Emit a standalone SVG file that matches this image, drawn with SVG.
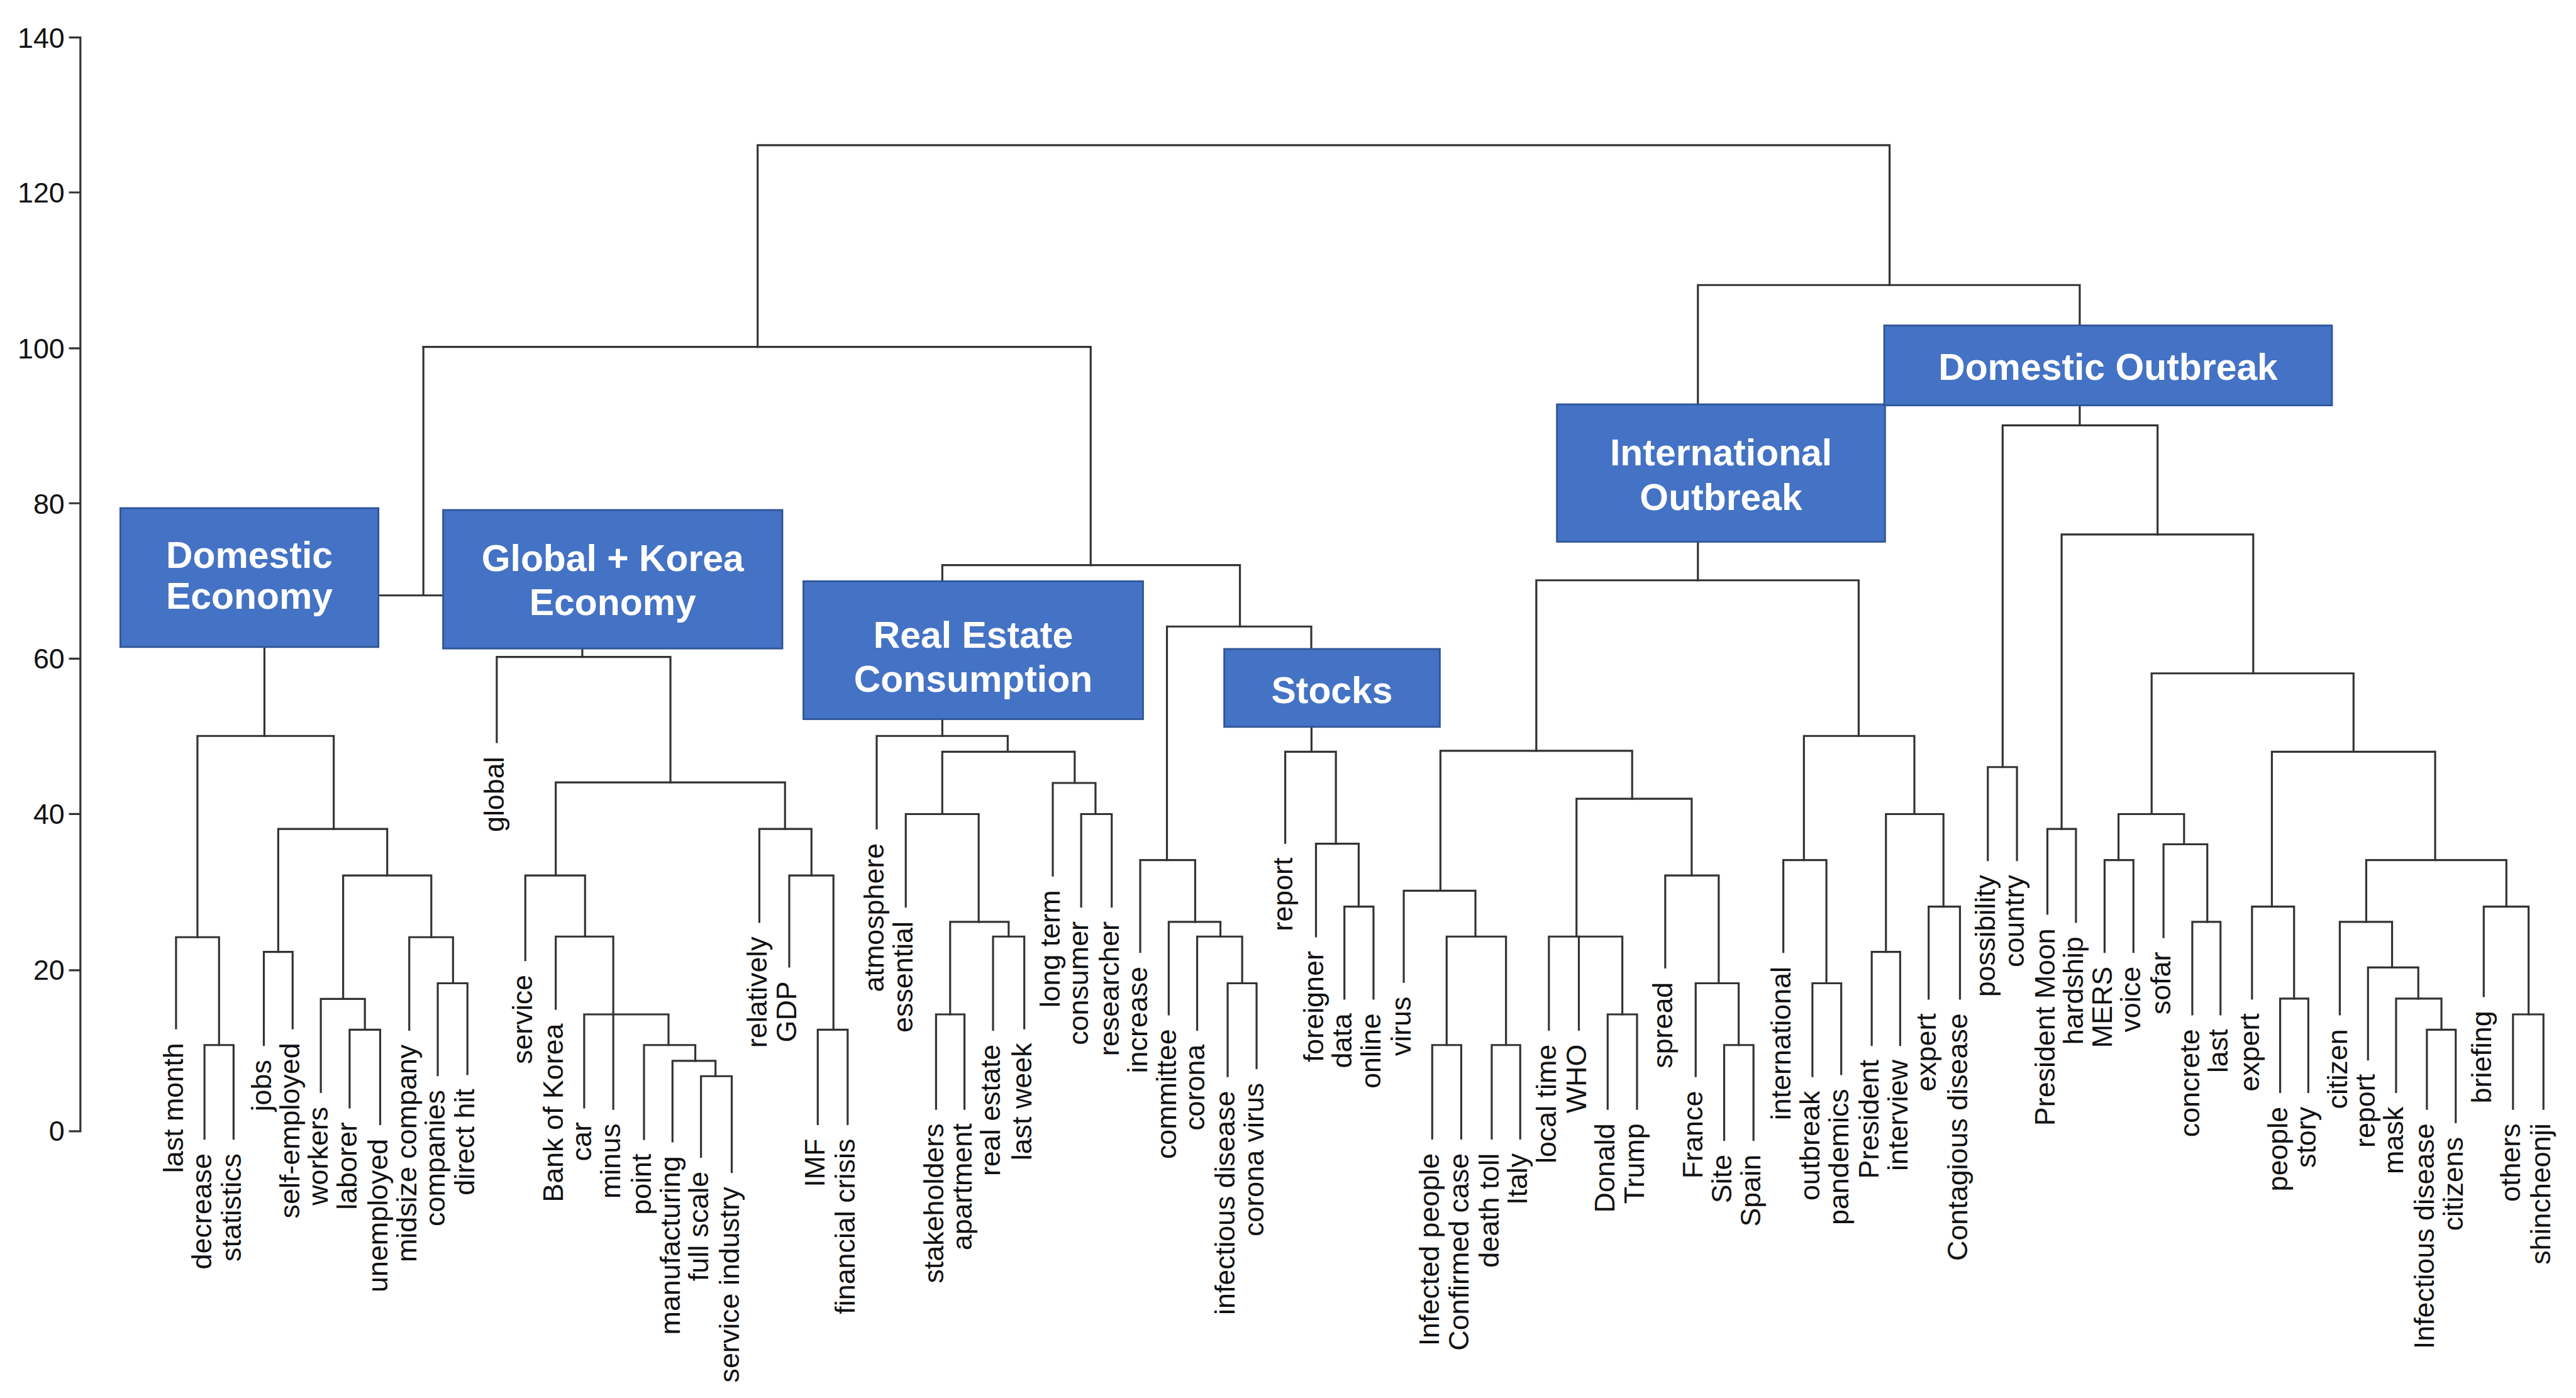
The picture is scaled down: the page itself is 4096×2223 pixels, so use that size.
<svg xmlns="http://www.w3.org/2000/svg" width="4096" height="2223" viewBox="0 0 4096 2223">
<style>
.ln{fill:none;stroke:#333;stroke-width:3.4;stroke-linecap:square}
.lbl{font-family:"Liberation Sans",Arial,sans-serif;font-size:48px;fill:#111;text-anchor:end}
.ax{font-family:"Liberation Sans",Arial,sans-serif;font-size:48px;fill:#111;text-anchor:end}
.box{fill:#4472C4;stroke:#2F5597;stroke-width:3}
.bt{font-family:"Liberation Sans",Arial,sans-serif;font-weight:bold;font-size:63px;fill:#fff;text-anchor:middle}
</style>
<rect width="4096" height="2223" fill="#fff"/>
<g transform="scale(0.934307)">
<g id="axis">
<path class="ln" d="M136.8 63.8V1925.3M119 63.8H136.8M119 327.5H136.8M119 592.9H136.8M119 856.5H136.8M119 1121H136.8M119 1385.4H136.8M119 1651.3H136.8M119 1925.3H136.8"/>
<text class="ax" x="110" y="81">140</text>
<text class="ax" x="110" y="345">120</text>
<text class="ax" x="110" y="610">100</text>
<text class="ax" x="110" y="874">80</text>
<text class="ax" x="110" y="1138">60</text>
<text class="ax" x="110" y="1402">40</text>
<text class="ax" x="110" y="1668">20</text>
<text class="ax" x="110" y="1942">0</text>
</g>
<g id="connectors" class="ln">
<path d="M348 1938V1778.6H397.5V1938"/>
<path d="M299.6 1750V1595H372.8V1778.6"/>
<path d="M449 1778.6V1620H498V1750"/>
<path d="M595 1884.7V1752.5H647V1913"/>
<path d="M546 1858.6V1700H621V1752.5"/>
<path d="M745 1830V1673.4H795.5V1828"/>
<path d="M696.5 1752.5V1595H771V1673.4"/>
<path d="M584 1700V1490H734V1595"/>
<path d="M473.5 1620V1410.8H659V1490"/>
<path d="M336 1595V1252.5H568V1410.8"/>
<path d="M450 1101.2V1252.5"/>
<path d="M1391.7 1913V1752.5H1442.6V1913"/>
<path d="M1343.2 1645V1490H1418.4V1752.5"/>
<path d="M1292.3 1569V1410.8H1381V1490"/>
<path d="M1193 1968.7V1831.6H1245.3V1994.8"/>
<path d="M1144.5 1942.6V1805.5H1217.7V1831.6"/>
<path d="M1096 1938.5V1778.6H1183.3V1805.5"/>
<path d="M994.2 1884.7V1726.4H1137.7V1778.6"/>
<path d="M945.8 1717V1594H1043.7V1887"/>
<path d="M894 1634V1490H995.7V1594"/>
<path d="M945.8 1490V1331.6H1336V1410.8"/>
<path d="M845.4 1263V1118H1141V1331.6"/>
<path d="M991 1103.7V1118"/>
<path d="M644 1013.3H754.1M720.5 1013.3V590.4"/>
<path d="M1593 1887V1726.4H1641.4V1887"/>
<path d="M1690 1752.5V1594H1743.2V1750"/>
<path d="M1617 1726.4V1569H1716.6V1594"/>
<path d="M1541.5 1543V1385.5H1665.6V1569"/>
<path d="M1840 1543V1385.5H1892V1543"/>
<path d="M1791.7 1490V1332.5H1864.4V1385.5"/>
<path d="M1603.6 1385.5V1279.4H1829V1332.5"/>
<path d="M1492 1410V1252.5H1715V1279.4"/>
<path d="M1603.7 1223.9V1252.5"/>
<path d="M2089.3 1831.6V1673.4H2138.5V1817.8"/>
<path d="M2037.4 1752.5V1594H2114V1673.4"/>
<path d="M1989 1726.4V1569H2077V1594"/>
<path d="M1940.5 1620V1463.8H2034V1569"/>
<path d="M1986 1463.8V1066.3H2231.6V1104.5"/>
<path d="M2288 1699.5V1543H2337.5V1699.5"/>
<path d="M2239.6 1593.5V1436H2312.3V1543"/>
<path d="M2187.3 1434.4V1279.4H2273.5V1436"/>
<path d="M2232 1237.1V1279.4"/>
<path d="M1603.7 989.2V961.8H2110.2V1066.3"/>
<path d="M1856.2 961.8V590.4H720.5"/>
<path d="M1289.4 590.4V247.1H3215.8V485.1"/>
<path d="M2437.4 1937.7V1778.6H2486.8V1937.7"/>
<path d="M2538.7 1937.7V1778.6H2587.2V1937.7"/>
<path d="M2462 1778.6V1594H2563V1778.6"/>
<path d="M2389 1671V1516H2511V1594"/>
<path d="M2736 1887V1726.4H2786V1887"/>
<path d="M2636 1752.5V1594H2761V1726.4"/>
<path d="M2687 1594V1752.5"/>
<path d="M2934.3 1940V1778.6H2984.2V1940"/>
<path d="M2885.8 1831.6V1673.4H2959V1778.6"/>
<path d="M2834 1646.5V1490H2925V1673.4"/>
<path d="M2683 1594V1359.4H2879V1490"/>
<path d="M2451.4 1516V1277.8H2777.7V1359.4"/>
<path d="M3084.5 1831.6V1673.4H3133.5V1828"/>
<path d="M3035 1620V1463.8H3108.3V1673.4"/>
<path d="M3185.4 1778.6V1620H3233.8V1778.6"/>
<path d="M3282.3 1699.5V1543H3335.6V1699.5"/>
<path d="M3209.6 1620V1385.5H3307.5V1543"/>
<path d="M3070 1463.8V1252.5H3258V1385.5"/>
<path d="M2614.6 1277.8V987.6H3163.2V1252.5"/>
<path d="M2889.6 922V987.6"/>
<path d="M2889.6 688.2V485.1H3539.4V553.9"/>
<path d="M3383 1463.8V1305.5H3432.6V1463.8"/>
<path d="M3484.4 1555V1410.8H3533V1569"/>
<path d="M3581.7 1620V1463.8H3630.8V1620"/>
<path d="M3731 1726.4V1569H3779V1726.4"/>
<path d="M3682 1595V1436.9H3756.5V1569"/>
<path d="M3605.4 1463.8V1385.5H3717V1436.9"/>
<path d="M3880.5 1858.6V1699.5H3928.4V1858.6"/>
<path d="M3832.6 1699.5V1543H3904.2V1699.5"/>
<path d="M4130.2 1887V1752.5H4179.3V1910"/>
<path d="M4077.8 1858.6V1699.5H4155V1752.5"/>
<path d="M4030 1803V1646.5H4115.6V1699.5"/>
<path d="M3982 1726.4V1569H4071V1646.5"/>
<path d="M4276.8 1887V1726.4H4328.6V1887"/>
<path d="M4227 1695.4V1543H4303.3V1726.4"/>
<path d="M4027 1569V1463.8H4265.5V1543"/>
<path d="M3866.4 1543V1279.4H4144.3V1463.8"/>
<path d="M3661.8 1385.5V1146H4005.4V1279.4"/>
<path d="M3508.6 1410.8V909.6H3834.7V1146"/>
<path d="M3408.2 1305.5V723.9H3671.9V909.6"/>
<path d="M3539.4 689.9V723.9"/>
</g>
<g id="node-domestic-economy"><rect class="box" x="204.8" y="864.8" width="439.2" height="236.4"/><text class="bt" x="424.4" y="966">Domestic</text><text class="bt" x="424.4" y="1036.5">Economy</text></g>
<g id="node-global-korea-economy"><rect class="box" x="754.1" y="868" width="577.4" height="235.7"/><text class="bt" x="1042.8" y="971.8">Global + Korea</text><text class="bt" x="1042.8" y="1046.4">Economy</text></g>
<g id="node-real-estate-consumption"><rect class="box" x="1367.3" y="989.2" width="578" height="234.7"/><text class="bt" x="1656.3" y="1102.8">Real Estate</text><text class="bt" x="1656.3" y="1177.4">Consumption</text></g>
<g id="node-stocks"><rect class="box" x="2083.5" y="1104.5" width="366.9" height="132.6"/><text class="bt" x="2267" y="1197">Stocks</text></g>
<g id="node-international-outbreak"><rect class="box" x="2649.7" y="688.2" width="558.4" height="233.8"/><text class="bt" x="2929" y="791.9">International</text><text class="bt" x="2929" y="868.2">Outbreak</text></g>
<g id="node-domestic-outbreak"><rect class="box" x="3206.7" y="553.9" width="762" height="136"/><text class="bt" x="3587.7" y="646.8">Domestic Outbreak</text></g>
<g id="leaves" class="lbl">
<g id="leaf-last-month"><text transform="translate(311.6,1775) rotate(-90)">last month</text></g>
<g id="leaf-decrease"><text transform="translate(360,1963) rotate(-90)">decrease</text></g>
<g id="leaf-statistics"><text transform="translate(409.5,1963) rotate(-90)">statistics</text></g>
<g id="leaf-jobs"><text transform="translate(461,1803.6) rotate(-90)">jobs</text></g>
<g id="leaf-self-employed"><text transform="translate(510,1775) rotate(-90)">self-employed</text></g>
<g id="leaf-workers"><text transform="translate(558,1883.6) rotate(-90)">workers</text></g>
<g id="leaf-laborer"><text transform="translate(607,1909.7) rotate(-90)">laborer</text></g>
<g id="leaf-unemployed"><text transform="translate(659,1938) rotate(-90)">unemployed</text></g>
<g id="leaf-midsize-company"><text transform="translate(708.5,1777.5) rotate(-90)">midsize company</text></g>
<g id="leaf-companies"><text transform="translate(757,1855) rotate(-90)">companies</text></g>
<g id="leaf-direct-hit"><text transform="translate(807.5,1853) rotate(-90)">direct hit</text></g>
<g id="leaf-global"><text transform="translate(857.4,1288) rotate(-90)">global</text></g>
<g id="leaf-service"><text transform="translate(906,1659) rotate(-90)">service</text></g>
<g id="leaf-bank-of-korea"><text transform="translate(957.8,1742) rotate(-90)">Bank of Korea</text></g>
<g id="leaf-car"><text transform="translate(1006.2,1909.7) rotate(-90)">car</text></g>
<g id="leaf-minus"><text transform="translate(1055.7,1912) rotate(-90)">minus</text></g>
<g id="leaf-point"><text transform="translate(1108,1963.5) rotate(-90)">point</text></g>
<g id="leaf-manufacturing"><text transform="translate(1156.5,1967.6) rotate(-90)">manufacturing</text></g>
<g id="leaf-full-scale"><text transform="translate(1205,1993.7) rotate(-90)">full scale</text></g>
<g id="leaf-service-industry"><text transform="translate(1257.3,2019.8) rotate(-90)">service industry</text></g>
<g id="leaf-relatively"><text transform="translate(1304.3,1594) rotate(-90)">relatively</text></g>
<g id="leaf-gdp"><text transform="translate(1355.2,1670) rotate(-90)">GDP</text></g>
<g id="leaf-imf"><text transform="translate(1403.7,1938) rotate(-90)">IMF</text></g>
<g id="leaf-financial-crisis"><text transform="translate(1454.6,1938) rotate(-90)">financial crisis</text></g>
<g id="leaf-atmosphere"><text transform="translate(1504,1435) rotate(-90)">atmosphere</text></g>
<g id="leaf-essential"><text transform="translate(1553.5,1568) rotate(-90)">essential</text></g>
<g id="leaf-stakeholders"><text transform="translate(1605,1912) rotate(-90)">stakeholders</text></g>
<g id="leaf-apartment"><text transform="translate(1653.4,1912) rotate(-90)">apartment</text></g>
<g id="leaf-real-estate"><text transform="translate(1702,1777.5) rotate(-90)">real estate</text></g>
<g id="leaf-last-week"><text transform="translate(1755.2,1775) rotate(-90)">last week</text></g>
<g id="leaf-long-term"><text transform="translate(1803.7,1515) rotate(-90)">long term</text></g>
<g id="leaf-consumer"><text transform="translate(1852,1568) rotate(-90)">consumer</text></g>
<g id="leaf-researcher"><text transform="translate(1904,1568) rotate(-90)">researcher</text></g>
<g id="leaf-increase"><text transform="translate(1952.5,1645) rotate(-90)">increase</text></g>
<g id="leaf-committee"><text transform="translate(2001,1751.4) rotate(-90)">committee</text></g>
<g id="leaf-corona"><text transform="translate(2049.4,1777.5) rotate(-90)">corona</text></g>
<g id="leaf-infectious-disease"><text transform="translate(2101.3,1856.6) rotate(-90)">infectious disease</text></g>
<g id="leaf-corona-virus"><text transform="translate(2150.5,1842.8) rotate(-90)">corona virus</text></g>
<g id="leaf-report-1"><text transform="translate(2199.3,1459.4) rotate(-90)">report</text></g>
<g id="leaf-foreigner"><text transform="translate(2251.6,1618.5) rotate(-90)">foreigner</text></g>
<g id="leaf-data"><text transform="translate(2300,1724.5) rotate(-90)">data</text></g>
<g id="leaf-online"><text transform="translate(2349.5,1724.5) rotate(-90)">online</text></g>
<g id="leaf-virus"><text transform="translate(2401,1696) rotate(-90)">virus</text></g>
<g id="leaf-infected-people"><text transform="translate(2449.4,1962.7) rotate(-90)">Infected people</text></g>
<g id="leaf-confirmed-case"><text transform="translate(2498.8,1962.7) rotate(-90)">Confirmed case</text></g>
<g id="leaf-death-toll"><text transform="translate(2550.7,1962.7) rotate(-90)">death toll</text></g>
<g id="leaf-italy"><text transform="translate(2599.2,1962.7) rotate(-90)">Italy</text></g>
<g id="leaf-local-time"><text transform="translate(2648,1777.5) rotate(-90)">local time</text></g>
<g id="leaf-who"><text transform="translate(2699.5,1777.5) rotate(-90)">WHO</text></g>
<g id="leaf-donald"><text transform="translate(2748,1912) rotate(-90)">Donald</text></g>
<g id="leaf-trump"><text transform="translate(2798,1912) rotate(-90)">Trump</text></g>
<g id="leaf-spread"><text transform="translate(2846,1671.5) rotate(-90)">spread</text></g>
<g id="leaf-france"><text transform="translate(2897.8,1856.6) rotate(-90)">France</text></g>
<g id="leaf-site"><text transform="translate(2946.3,1965) rotate(-90)">Site</text></g>
<g id="leaf-spain"><text transform="translate(2996.2,1965) rotate(-90)">Spain</text></g>
<g id="leaf-international"><text transform="translate(3047,1645) rotate(-90)">international</text></g>
<g id="leaf-outbreak"><text transform="translate(3096.5,1856.6) rotate(-90)">outbreak</text></g>
<g id="leaf-pandemics"><text transform="translate(3145.5,1853) rotate(-90)">pandemics</text></g>
<g id="leaf-president"><text transform="translate(3197.4,1803.6) rotate(-90)">President</text></g>
<g id="leaf-interview"><text transform="translate(3245.8,1803.6) rotate(-90)">interview</text></g>
<g id="leaf-expert-1"><text transform="translate(3294.3,1724.5) rotate(-90)">expert</text></g>
<g id="leaf-contagious-disease"><text transform="translate(3347.6,1724.5) rotate(-90)">Contagious disease</text></g>
<g id="leaf-possibility"><text transform="translate(3395,1488.8) rotate(-90)">possibility</text></g>
<g id="leaf-country"><text transform="translate(3444.6,1488.8) rotate(-90)">country</text></g>
<g id="leaf-president-moon"><text transform="translate(3496.4,1580) rotate(-90)">President Moon</text></g>
<g id="leaf-hardship"><text transform="translate(3545,1594) rotate(-90)">hardship</text></g>
<g id="leaf-mers"><text transform="translate(3593.7,1645) rotate(-90)">MERS</text></g>
<g id="leaf-voice"><text transform="translate(3642.8,1645) rotate(-90)">voice</text></g>
<g id="leaf-sofar"><text transform="translate(3694,1620) rotate(-90)">sofar</text></g>
<g id="leaf-concrete"><text transform="translate(3743,1751.4) rotate(-90)">concrete</text></g>
<g id="leaf-last"><text transform="translate(3791,1751.4) rotate(-90)">last</text></g>
<g id="leaf-expert-2"><text transform="translate(3844.6,1724.5) rotate(-90)">expert</text></g>
<g id="leaf-people"><text transform="translate(3892.5,1883.6) rotate(-90)">people</text></g>
<g id="leaf-story"><text transform="translate(3940.4,1883.6) rotate(-90)">story</text></g>
<g id="leaf-citizen"><text transform="translate(3994,1751.4) rotate(-90)">citizen</text></g>
<g id="leaf-report-2"><text transform="translate(4042,1828) rotate(-90)">report</text></g>
<g id="leaf-mask"><text transform="translate(4089.8,1883.6) rotate(-90)">mask</text></g>
<g id="leaf-infectious-disease-2"><text transform="translate(4142.2,1912) rotate(-90)">Infectious disease</text></g>
<g id="leaf-citizens"><text transform="translate(4191.3,1935) rotate(-90)">citizens</text></g>
<g id="leaf-briefing"><text transform="translate(4239,1720.4) rotate(-90)">briefing</text></g>
<g id="leaf-others"><text transform="translate(4288.8,1912) rotate(-90)">others</text></g>
<g id="leaf-shincheonji"><text transform="translate(4340.6,1912) rotate(-90)">shincheonji</text></g>
</g>
</g>
</svg>
